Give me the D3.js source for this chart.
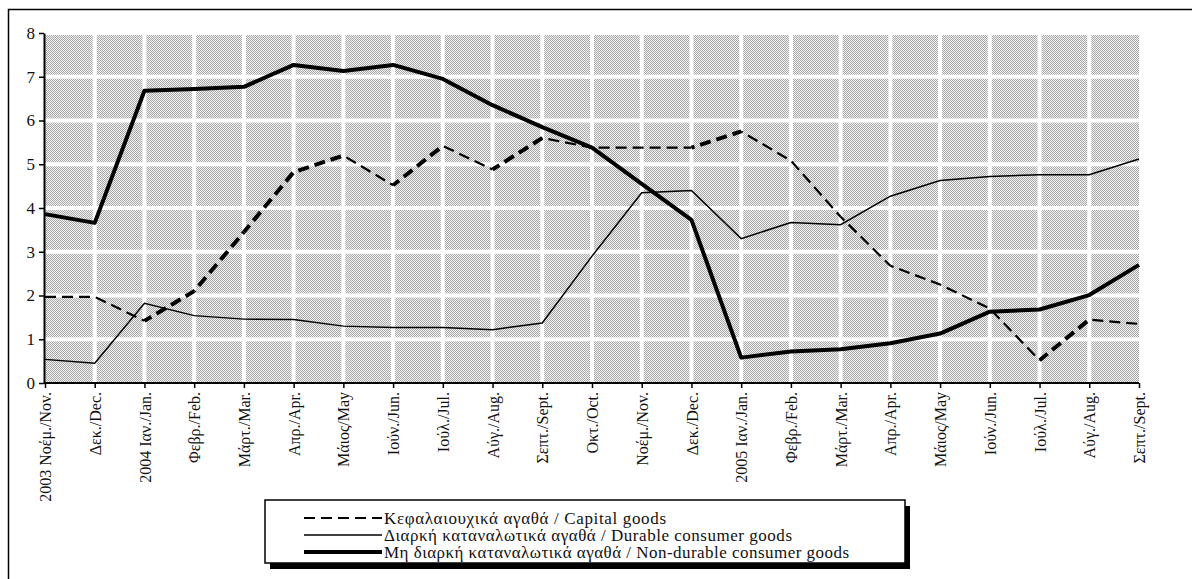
<!DOCTYPE html>
<html>
<head>
<meta charset="utf-8">
<script src="https://cdn.jsdelivr.net/npm/d3@7"></script>
<style>
  body { margin: 0; background: #fff; }
  svg { display: block; }
  text { font-family: "Liberation Serif", "Times New Roman", "DejaVu Serif", serif; }
</style>
</head>
<body>
<svg id="chart" width="1192" height="579"></svg>
<script>
"use strict";

// months, Nov 2003 - Sept 2005
const months = ["2003 Νοέμ./Nov.", "Δεκ./Dec.", "2004 Ιαν./Jan.", "Φεβρ./Feb.", "Μάρτ./Mar.",
  "Απρ./Apr.", "Μάιος/May", "Ιούν./Jun.", "Ιούλ./Jul.", "Αύγ./Aug.", "Σεπτ./Sept.",
  "Οκτ./Oct.", "Νοέμ./Nov.", "Δεκ./Dec.", "2005 Ιαν./Jan.", "Φεβρ./Feb.", "Μάρτ./Mar.",
  "Απρ./Apr.", "Μάιος/May", "Ιούν./Jun.", "Ιούλ./Jul.", "Αύγ./Aug.", "Σεπτ./Sept."];

const capitalGoods = [1.97, 1.97, 1.42, 2.1, 3.45, 4.82, 5.2, 4.52, 5.42, 4.88, 5.6,
  5.38, 5.38, 5.38, 5.75, 5.08, 3.8, 2.68, 2.25, 1.7, 0.52, 1.45, 1.35];
const durableGoods = [0.54, 0.45, 1.82, 1.54, 1.46, 1.45, 1.3, 1.27, 1.27, 1.22, 1.37,
  2.9, 4.35, 4.4, 3.3, 3.67, 3.62, 4.27, 4.63, 4.72, 4.76, 4.76, 5.12];
const nonDurableGoods = [3.86, 3.66, 6.68, 6.72, 6.77, 7.27, 7.13, 7.27, 6.95, 6.35, 5.85,
  5.38, 4.55, 3.73, 0.58, 0.72, 0.77, 0.91, 1.13, 1.63, 1.68, 2.01, 2.7];

const yTicks = [0, 1, 2, 3, 4, 5, 6, 7, 8];

const legendNames = ["Κεφαλαιουχικά αγαθά / Capital goods",
  "Διαρκή καταναλωτικά αγαθά / Durable consumer goods",
  "Μη διαρκή καταναλωτικά αγαθά / Non-durable consumer goods"];

const FONT = "'Liberation Serif', 'Times New Roman', serif";
const svg = d3.select("#chart");

// outer frame (runs off the right and bottom edges)
svg.append("rect")
  .attr("x", 8.5).attr("y", 9.5)
  .attr("width", 1200).attr("height", 600)
  .attr("fill", "none").attr("stroke", "#000").attr("stroke-width", 1.5);

const pLeft = 45, pRight = 1139, pTop = 33, pBottom = 383;

const x = d3.scalePoint().domain(d3.range(months.length)).range([pLeft, pRight]);
const y = d3.scaleLinear().domain([0, 8]).range([pBottom, pTop]);

// dithered background pattern
const defs = svg.append("defs");
const pat = defs.append("pattern")
  .attr("id", "dots").attr("width", 2).attr("height", 2)
  .attr("patternUnits", "userSpaceOnUse");
pat.append("rect").attr("width", 2).attr("height", 2).attr("fill", "#f2f2f2");
pat.append("rect").attr("x", 0).attr("y", 0).attr("width", 1).attr("height", 1).attr("fill", "#a8a8a8");
pat.append("rect").attr("x", 1).attr("y", 1).attr("width", 1).attr("height", 1).attr("fill", "#a8a8a8");

svg.append("rect")
  .attr("x", pLeft).attr("y", pTop)
  .attr("width", pRight - pLeft).attr("height", pBottom - pTop)
  .attr("fill", "url(#dots)")
  .attr("shape-rendering", "crispEdges");

// white gridlines
svg.append("g").selectAll("line")
  .data(d3.range(1, months.length - 1))
  .join("line")
  .attr("x1", d => x(d)).attr("x2", d => x(d))
  .attr("y1", pTop).attr("y2", pBottom)
  .attr("stroke", "#fff").attr("stroke-width", 4);

svg.append("g").selectAll("line")
  .data(yTicks.slice(1))
  .join("line")
  .attr("x1", pLeft).attr("x2", pRight)
  .attr("y1", d => y(d)).attr("y2", d => y(d))
  .attr("stroke", "#fff").attr("stroke-width", 4);

// axes
const yAxis = svg.append("g")
  .attr("transform", `translate(${pLeft - 1},0)`)
  .call(d3.axisLeft(y).tickValues(yTicks).tickSize(5).tickSizeOuter(0).tickFormat(d3.format("d")));
yAxis.attr("font-family", FONT);
yAxis.select(".domain").attr("stroke-width", 2);
yAxis.selectAll(".tick line").attr("stroke-width", 1.5);
yAxis.selectAll("text").attr("font-size", 17).attr("x", -9).attr("fill", "#111");

const xAxis = svg.append("g")
  .attr("transform", `translate(0,${pBottom})`)
  .call(d3.axisBottom(x).tickSize(5).tickSizeOuter(0).tickFormat(i => months[i]));
xAxis.attr("font-family", FONT);
xAxis.select(".domain").attr("stroke-width", 2).attr("d", `M${pLeft - 1},0H${pRight}`);
xAxis.selectAll(".tick line").attr("stroke-width", 1.5);
xAxis.selectAll("text")
  .attr("font-size", 16).attr("fill", "#111")
  .attr("transform", "rotate(-90)")
  .attr("text-anchor", "end")
  .attr("x", -9).attr("y", 0).attr("dy", "0.35em");

const line = d3.line().x((d, i) => x(i)).y(d => y(d));

// durable goods - thin line
svg.append("path")
  .datum(durableGoods)
  .attr("d", line)
  .attr("fill", "none").attr("stroke", "#000").attr("stroke-width", 1.5);

// capital goods - dashed, heavier where rising
const segs = [];
let run = 0;
for (let i = 0; i < capitalGoods.length - 1; i++) {
  const dx = x(i + 1) - x(i), dy = y(capitalGoods[i + 1]) - y(capitalGoods[i]);
  segs.push({ i: i, off: run, up: capitalGoods[i + 1] > capitalGoods[i] + 0.05 });
  run += Math.hypot(dx, dy);
}
svg.append("g").selectAll("path")
  .data(segs)
  .join("path")
  .attr("d", s => d3.line().x((d, k) => x(s.i + k)).y(d => y(d))([capitalGoods[s.i], capitalGoods[s.i + 1]]))
  .attr("fill", "none").attr("stroke", "#000")
  .attr("stroke-width", s => s.up ? 4 : 2.2)
  .attr("stroke-dasharray", "11,6")
  .attr("stroke-dashoffset", s => s.off);

// non-durable goods - thick line
svg.append("path")
  .datum(nonDurableGoods)
  .attr("d", line)
  .attr("fill", "none").attr("stroke", "#000").attr("stroke-width", 4)
  .attr("stroke-linejoin", "round");

// legend
const lg = svg.append("g").attr("font-family", FONT);
const lx = 265, ly = 500, lw = 640, lh = 63;
lg.append("rect").attr("x", lx + 5).attr("y", ly + 6).attr("width", lw).attr("height", lh).attr("fill", "#000");
lg.append("rect").attr("x", lx).attr("y", ly).attr("width", lw).attr("height", lh)
  .attr("fill", "#fff").attr("stroke", "#000").attr("stroke-width", 1.5);

const legendStyle = [
  { w: 2.2, dash: "11,6" },
  { w: 1.5, dash: null },
  { w: 4, dash: null }
];
const legendWidths = [282, 408, 465];
const rowY = [518, 535, 552];

legendNames.forEach((name, k) => {
  lg.append("line")
    .attr("x1", 304).attr("x2", 382)
    .attr("y1", rowY[k]).attr("y2", rowY[k])
    .attr("stroke", "#000").attr("stroke-width", legendStyle[k].w)
    .attr("stroke-dasharray", legendStyle[k].dash);
  lg.append("text")
    .attr("x", 384).attr("y", rowY[k]).attr("dy", "0.35em")
    .attr("font-size", 17).attr("fill", "#111")
    .attr("textLength", legendWidths[k]).attr("lengthAdjust", "spacing")
    .text(name);
});
</script>
</body>
</html>
